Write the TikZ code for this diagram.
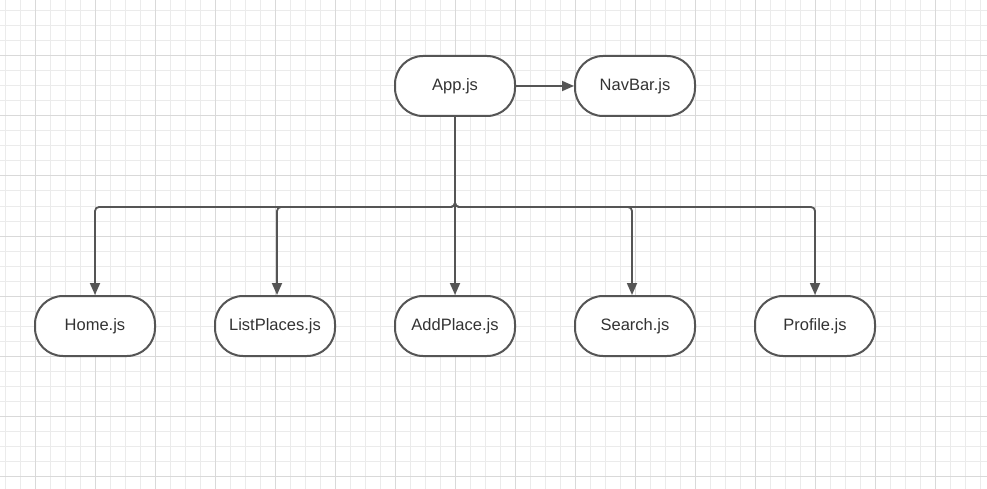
\documentclass[tikz,border=0pt]{standalone}
\usepackage{fontspec}
\setmainfont{Liberation Sans}
\usetikzlibrary{arrows.meta}
\definecolor{gridminor}{HTML}{EBEBEB}
\definecolor{gridmajor}{HTML}{D9D9D9}
\definecolor{edgecol}{HTML}{555555}
\definecolor{textcol}{HTML}{333333}
\tikzset{
  comp/.style={draw=edgecol, line width=2pt, fill=white, rounded corners=28pt,
    minimum width=120pt, minimum height=60pt, inner sep=0pt,
    font=\fontsize{16.5pt}{19pt}\selectfont, text=textcol},
  conn/.style={draw=edgecol, line width=1.8pt, rounded corners=4pt,
    -{Triangle[length=12pt,width=10pt]}},
  gminor/.style={draw=gridminor, line width=1pt},
  gmajor/.style={draw=gridmajor, line width=1pt}
}
\begin{document}
\begin{tikzpicture}[x=1pt,y=-1pt]
\useasboundingbox (0,0) rectangle (987,489);
\fill[white] (0,0) rectangle (987,489);
% grid
\foreach \i in {0,...,65} {\draw[gminor] (5+15*\i,0) -- (5+15*\i,489);}
\foreach \i in {0,...,32} {\draw[gminor] (0,11+15*\i) -- (987,11+15*\i);}
\foreach \i in {0,...,15} {\draw[gmajor] (35+60*\i,0) -- (35+60*\i,489);}
\foreach \i in {0,...,7} {\draw[gmajor] (0,56+60*\i) -- (987,56+60*\i);}
% nodes
\node[comp] (app) at (455,86) {App.js};
\node[comp] (nav) at (635,86) {NavBar.js};
\node[comp] (home) at (95,326) {Home.js};
\node[comp] (list) at (275,326) {ListPlaces.js};
\node[comp] (add) at (455,326) {AddPlace.js};
\node[comp] (search) at (635,326) {Search.js};
\node[comp] (profile) at (815,326) {Profile.js};
\coordinate (j) at (455,207);
% connectors
\draw[conn] (app.east) -- (nav.west);
\draw[conn] (app.south) -- (j) -| (home.north);
\draw[conn] (app.south) -- (j) -| ([xshift=2pt]list.north);
\draw[conn] (app.south) -- (add.north);
\draw[conn] (app.south) -- (j) -| ([xshift=-3pt]search.north);
\draw[conn] (app.south) -- (j) -| (profile.north);
\end{tikzpicture}
\end{document}
